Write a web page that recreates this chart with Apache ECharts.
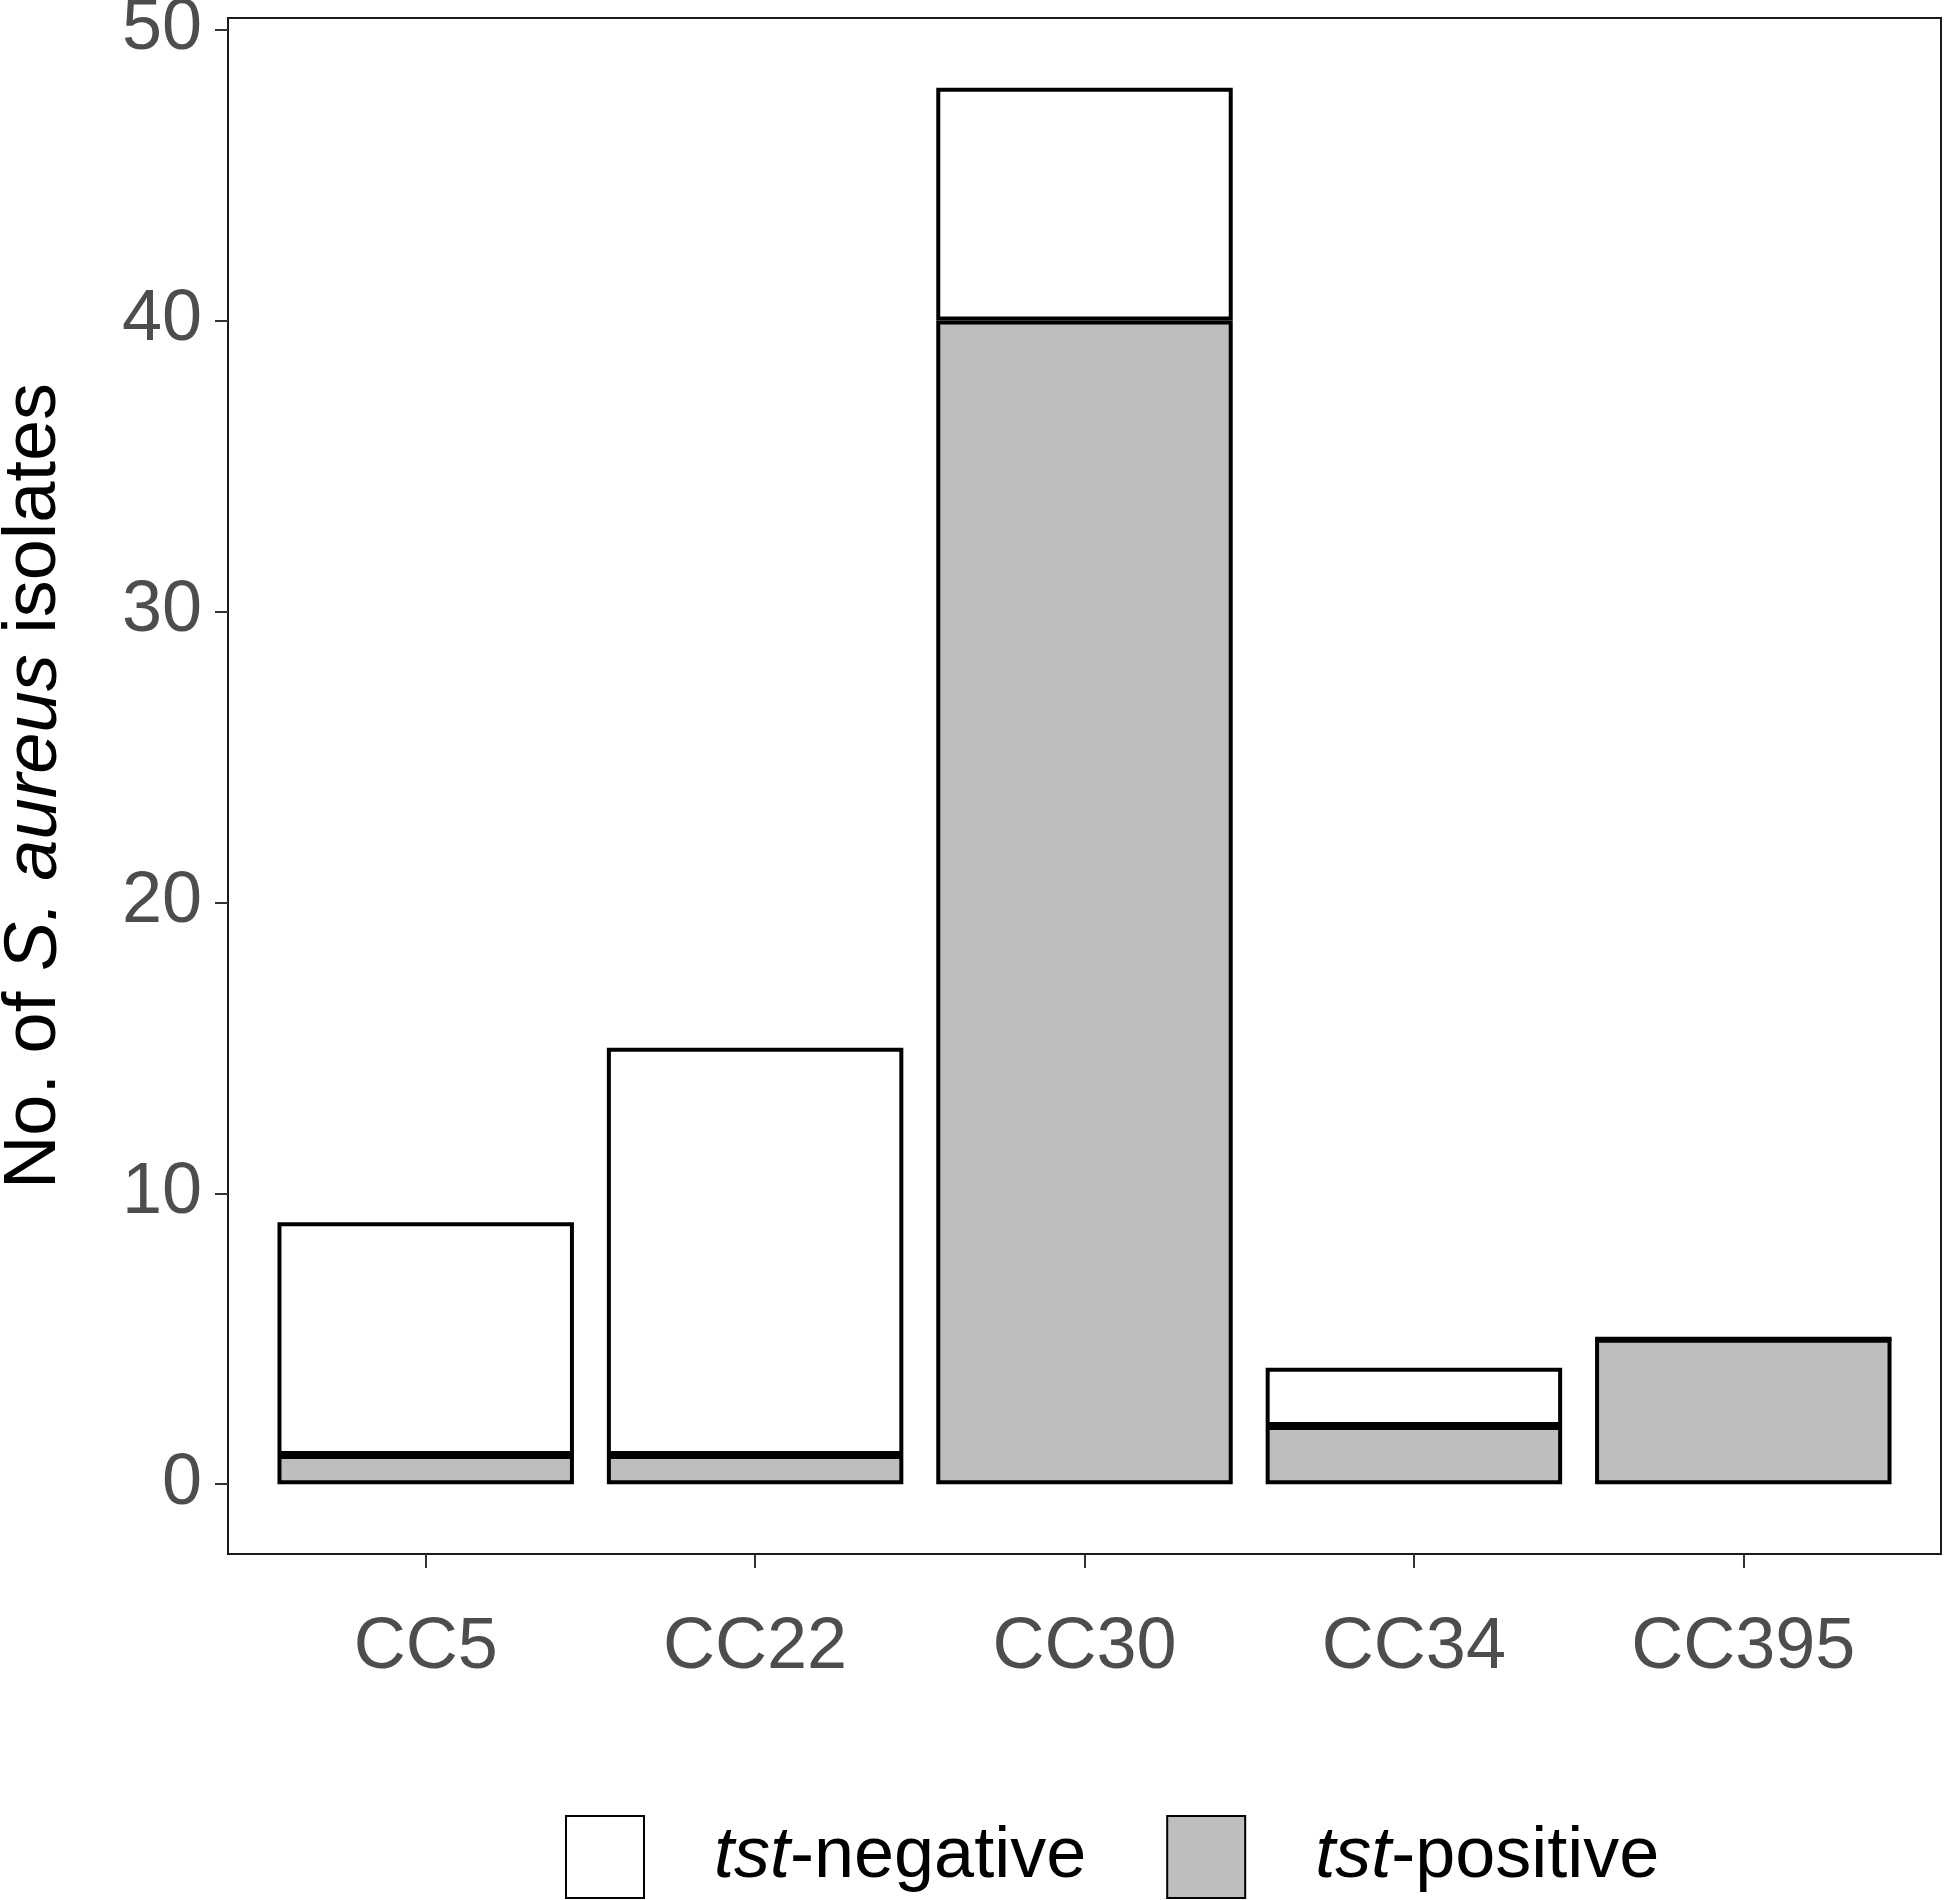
<!DOCTYPE html>
<html>
<head>
<meta charset="utf-8">
<title>tst by clonal complex</title>
<script src="https://cdn.jsdelivr.net/npm/echarts@6/dist/echarts.min.js"></script>
<style>
  html, body { margin: 0; padding: 0; background: #fff; }
  #main { width: 1945px; height: 1900px; }
</style>
</head>
<body>
<div id="main"></div>
<script>
// categories and counts
var groups = ['CC5', 'CC22', 'CC30', 'CC34', 'CC395'];
var tstPositive = [1, 1, 40, 2, 5];   // grey part
var tstNegative = [8, 14, 8, 2, 0];   // white part stacked on top
var yTicks = [0, 10, 20, 30, 40, 50];
var yMin = -2.4, yMax = 50.4;          // ggplot style 5% padding around 0..48

var FONT = 'Liberation Sans';
var chart = echarts.init(document.getElementById('main'));

var option = {
  backgroundColor: '#fff',
  animation: false,
  textStyle: { fontFamily: FONT },
  grid: [
    // panel (border + y axis)
    { left: 228, right: 4, top: 18, bottom: 346, show: true, outerBoundsMode: 'none',
      borderColor: '#1a1a1a', borderWidth: 2, backgroundColor: 'transparent' },
    // bar area, ggplot discrete expansion (0.6 units each side)
    { left: 261, right: 37, top: 18, bottom: 346, outerBoundsMode: 'none' }
  ],
  xAxis: [
    { gridIndex: 0, type: 'category', data: groups, show: false },
    { gridIndex: 1, type: 'category', data: groups,
      axisLine: { show: false, onZero: false },
      axisTick: { show: true, alignWithLabel: true, length: 14,
                  lineStyle: { color: '#333', width: 2 } },
      axisLabel: { fontSize: 72, color: '#4d4d4d', margin: 58, fontFamily: FONT } }
  ],
  yAxis: [
    { gridIndex: 0, type: 'value', min: yMin, max: yMax,
      axisLine: { show: false },
      splitLine: { show: false },
      axisTick: { show: true, length: 13, customValues: yTicks,
                  lineStyle: { color: '#333', width: 2 } },
      axisLabel: { fontSize: 72, color: '#4d4d4d', margin: 26, fontFamily: FONT,
                   customValues: yTicks },
      name: 'No. of {it|S. aureus} isolates',
      nameLocation: 'middle',
      nameGap: 156,
      nameTextStyle: { fontSize: 74, color: '#000', fontFamily: FONT,
        rich: { it: { fontSize: 74, color: '#000', fontStyle: 'italic', fontFamily: FONT } } } },
    { gridIndex: 1, type: 'value', min: yMin, max: yMax, show: false,
      splitLine: { show: false } }
  ],
  legend: {
    data: ['tst-negative', 'tst-positive'],
    left: 560, top: 1810,
    itemWidth: 78, itemHeight: 82, itemGap: 80,
    icon: 'rect',
    formatter: function (name) {
      return '{it|tst}' + name.slice(3);
    },
    textStyle: { fontSize: 72, color: '#000', fontFamily: FONT, padding: [0, 0, 0, 65],
      rich: { it: { fontSize: 72, color: '#000', fontStyle: 'italic', fontFamily: FONT } } }
  },
  series: [
    { name: 'tst-positive', type: 'bar', stack: 'n', xAxisIndex: 1, yAxisIndex: 1,
      barCategoryGap: '10%', data: tstPositive,
      itemStyle: { color: '#bebebe', borderColor: '#000', borderWidth: 4 } },
    { name: 'tst-negative', type: 'bar', stack: 'n', xAxisIndex: 1, yAxisIndex: 1,
      barCategoryGap: '10%', data: tstNegative,
      itemStyle: { color: '#fff', borderColor: '#000', borderWidth: 4 } }
  ]
};

chart.setOption(option);
</script>
</body>
</html>
